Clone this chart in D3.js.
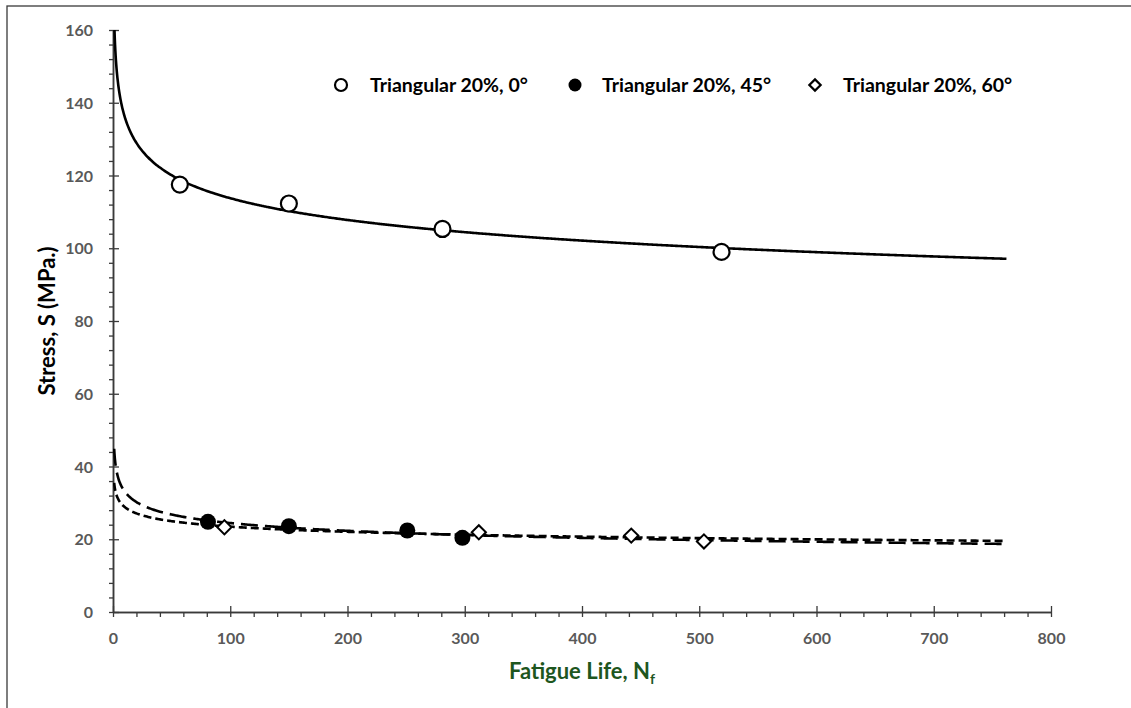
<!DOCTYPE html>
<html>
<head>
<meta charset="utf-8">
<script src="https://cdn.jsdelivr.net/npm/d3@7/dist/d3.min.js"></script>
<style>
  html, body { margin: 0; padding: 0; background: #fff; }
  svg { display: block; }
  text { font-family: Lato, "Open Sans", "Liberation Sans", sans-serif; font-weight: bold; }
</style>
</head>
<body>
<svg id="chart" width="1131" height="708"></svg>
<script>
// ---- data ----
const seriesNames = ["Triangular 20%, 0°", "Triangular 20%, 45°", "Triangular 20%, 60°"];
const life0  = [57, 150, 281, 519];
const stress0 = [117.5, 112.3, 105.3, 99.0];
const life45 = [81, 150, 251, 298];
const stress45 = [24.8, 23.6, 22.4, 20.4];
const life60 = [95, 312, 442, 504];
const stress60 = [23.3, 21.9, 21.0, 19.4];
const trendRange = [1, 762];          // extent of the power trendlines
const xMajorTicks = [0, 100, 200, 300, 400, 500, 600, 700, 800];
const yMajorTicks = [0, 20, 40, 60, 80, 100, 120, 140, 160];
const xMinorStep = 20;
const yMinorStep = 4;

const svg = d3.select("#chart");
const x = d3.scaleLinear().domain([0, 800]).range([113, 1051]);
const y = d3.scaleLinear().domain([0, 160]).range([612, 30]);

// outer frame (only top/left visible)
svg.append("rect").attr("x", 7).attr("y", 6).attr("width", 1300).attr("height", 900)
  .attr("fill", "none").attr("stroke", "#3a3a3a").attr("stroke-width", 1.3);

// clip
svg.append("clipPath").attr("id", "plotclip").append("rect")
  .attr("x", 113).attr("y", 30).attr("width", 938).attr("height", 582);

// ---- axes ----
const axisColor = "#3a3a3a";
const labelColor = "#595959";
const xMinor = d3.range(0, 801, xMinorStep).filter(v => v % 100 !== 0);
const yMinor = d3.range(0, 161, yMinorStep).filter(v => v % 20 !== 0);

const gx = svg.append("g").attr("transform", `translate(0,${y(0)})`);
const gxMinor = gx.append("g").attr("class", "minor");
gxMinor.call(d3.axisBottom(x).tickValues(xMinor).tickSize(5).tickSizeOuter(0).tickFormat(""));
const gxMajor = gx.append("g").attr("class", "major");
gxMajor.call(d3.axisBottom(x).tickValues(xMajorTicks).tickSize(5).tickSizeOuter(0).tickFormat(d3.format("d")));
gx.selectAll("path.domain").attr("stroke", axisColor).attr("stroke-width", 1.5);
gx.selectAll("line").attr("stroke", axisColor).attr("stroke-width", 1.3);
gxMajor.selectAll(".tick line").attr("y1", -6).attr("y2", 5);
gxMajor.selectAll(".tick text").attr("y", 26).attr("dy", "0.35em")
  .attr("fill", labelColor).attr("font-size", 16).attr("font-family", "Lato, sans-serif").attr("font-weight", "bold");

const gy = svg.append("g").attr("transform", `translate(${x(0)},0)`);
const gyMinor = gy.append("g").attr("class", "minor");
gyMinor.call(d3.axisLeft(y).tickValues(yMinor).tickSize(4).tickSizeOuter(0).tickFormat(""));
const gyMajor = gy.append("g").attr("class", "major");
gyMajor.call(d3.axisLeft(y).tickValues(yMajorTicks).tickSize(4).tickSizeOuter(0).tickFormat(d3.format("d")));
gy.selectAll("path.domain").attr("stroke", axisColor).attr("stroke-width", 1.5);
gy.selectAll("line").attr("stroke", axisColor).attr("stroke-width", 1.3);
gyMajor.selectAll(".tick line").attr("x1", -4).attr("x2", 6);
gyMajor.selectAll(".tick text").attr("x", -20).attr("dy", "0.35em")
  .attr("fill", labelColor).attr("font-size", 16).attr("font-family", "Lato, sans-serif").attr("font-weight", "bold");

// axis titles
svg.append("text").attr("transform", `translate(47,${(y(0) + y(160)) / 2}) rotate(-90)`)
  .attr("text-anchor", "middle").attr("dy", "0.35em").attr("font-size", 22).attr("fill", "#000")
  .text("Stress, S (MPa.)");
const xt = svg.append("text").attr("x", (x(0) + x(800)) / 2).attr("y", 671).attr("dy", "0.35em")
  .attr("text-anchor", "middle").attr("font-size", 22).attr("fill", "#1e561e");
xt.append("tspan").text("Fatigue Life, N");
xt.append("tspan").attr("font-size", 14).attr("dy", 5).text("f");

// ---- power-law trendlines (least squares in log space) ----
function powerFit(xs, ys) {
  const lx = xs.map(Math.log), ly = ys.map(Math.log);
  const mx = d3.mean(lx), my = d3.mean(ly);
  const b = d3.sum(lx.map((v, i) => (v - mx) * (ly[i] - my))) / d3.sum(lx.map(v => (v - mx) ** 2));
  const a = Math.exp(my - b * mx);
  return v => a * Math.pow(v, b);
}
const seriesDefs = [
  { xs: life0, ys: stress0, dash: null },
  { xs: life45, ys: stress45, dash: "17,7" },
  { xs: life60, ys: stress60, dash: "8,4" }
];
const plot = svg.append("g").attr("clip-path", "url(#plotclip)");
const line = d3.line().x(d => x(d[0])).y(d => y(d[1])).curve(d3.curveMonotoneX);
seriesDefs.forEach(s => {
  const f = powerFit(s.xs, s.ys);
  const samples = [];
  for (let v = trendRange[0]; v < 20; v += 0.25) samples.push([v, f(v)]);
  for (let v = 20; v <= trendRange[1]; v += 2) samples.push([v, f(v)]);
  plot.append("path").datum(samples).attr("d", line).attr("fill", "none")
    .attr("stroke", "#000").attr("stroke-width", 2.6)
    .attr("stroke-dasharray", s.dash);
});

// ---- markers ----
const mk = svg.append("g");
mk.selectAll("circle.s0").data(life0.map((v, i) => [v, stress0[i]])).join("circle")
  .attr("cx", d => x(d[0])).attr("cy", d => y(d[1])).attr("r", 8)
  .attr("fill", "#fff").attr("stroke", "#000").attr("stroke-width", 2.2);
mk.selectAll("circle.s45").data(life45.map((v, i) => [v, stress45[i]])).join("circle")
  .attr("cx", d => x(d[0])).attr("cy", d => y(d[1])).attr("r", 8)
  .attr("fill", "#000");
mk.selectAll("path.s60").data(life60.map((v, i) => [v, stress60[i]])).join("path")
  .attr("d", d3.symbol().type(d3.symbolSquare).size(100)())
  .attr("transform", d => `translate(${x(d[0])},${y(d[1])}) rotate(45)`)
  .attr("fill", "#fff").attr("stroke", "#000").attr("stroke-width", 2);

// ---- legend ----
const legY = 85;
const leg = svg.append("g");
const legItems = [
  { mx: 341, tx: 370, type: "open" },
  { mx: 575, tx: 602, type: "filled" },
  { mx: 815, tx: 843, type: "diamond" }
];
legItems.forEach((it, i) => {
  if (it.type === "open") {
    leg.append("circle").attr("cx", it.mx).attr("cy", legY).attr("r", 6)
      .attr("fill", "#fff").attr("stroke", "#000").attr("stroke-width", 2.2);
  } else if (it.type === "filled") {
    leg.append("circle").attr("cx", it.mx).attr("cy", legY).attr("r", 6.5).attr("fill", "#000");
  } else {
    leg.append("path").attr("d", d3.symbol().type(d3.symbolSquare).size(64)())
      .attr("transform", `translate(${it.mx},${legY}) rotate(45)`)
      .attr("fill", "#fff").attr("stroke", "#000").attr("stroke-width", 2.2);
  }
  leg.append("text").attr("x", it.tx).attr("y", legY).attr("dy", "0.35em")
    .attr("font-size", 19.5).attr("fill", "#000").text(seriesNames[i]);
});
</script>
</body>
</html>
